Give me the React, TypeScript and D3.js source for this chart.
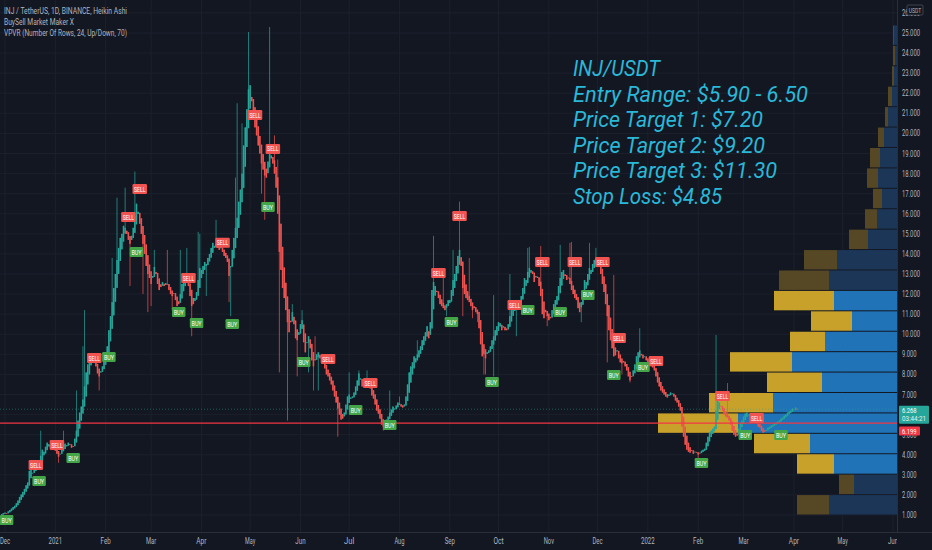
import React from "react";
import * as d3 from "d3";

// ---------------- DATA ----------------
// Heikin Ashi closes, one per day, starting 2020-11-29 (day index -2, day 0 = 2020-12-01)
const FIRST_DAY = -2;
const FIRST_OPEN = 1.0;
const CLOSES: number[] = [
  1.05, 1.1, 1.12, 1.08, 1.18, 1.25, 1.32, 1.4, 1.46, 1.58, 1.72, 1.9,
  2.02, 2.15, 2.3, 2.48, 2.62, 3.2, 3.35, 3.1, 3.28, 3.4,
  3.32, 3.6, 3.95, 4.25, 4.15, 4.4, 4.6, 4.52, 4.35, 4.45,
  4.4, 4.2, 4.05, 3.9, 4.05, 4.3, 4.4, 4.55, 4.48, 4.6,
  4.5, 4.35, 4.42, 4.8, 5.2, 5.7, 6.1, 6.4, 6.75, 7.4,
  8.1, 8.5, 8.9, 8.75, 8.8, 8.6, 8.4, 8.05, 7.9, 8.15,
  8.4, 8.7, 9.1, 9.4, 10.2, 10.9, 11.6, 12.3, 13.0, 13.7,
  14.3, 14.8, 15.0, 15.4, 15.3, 15.0, 14.7, 14.5, 14.9, 15.3,
  15.9, 16.5, 16.1, 15.5, 15.0, 14.5, 14.0, 13.4, 13.0, 12.8,
  12.5, 12.9, 13.35, 13.0, 12.5, 12.2, 12.35, 12.6, 12.4, 12.55,
  12.5, 12.2, 12.0, 11.9, 12.05, 11.7, 11.4, 11.5, 12.0, 12.5,
  12.65, 12.8, 12.7, 12.4, 11.9, 11.4, 11.5, 11.8, 12.1, 12.7,
  13.3, 13.2, 13.4, 13.6, 13.5, 13.8, 14.0, 14.3, 14.55, 14.4,
  14.5, 14.3, 14.2, 14.35, 14.1, 13.9, 13.8, 13.6, 12.9, 13.4,
  14.2, 14.8, 15.3, 15.8, 16.6, 17.2, 18.0, 19.4, 20.3, 21.2,
  22.2, 22.4, 21.6, 20.9, 20.3, 19.9, 19.4, 19.0, 18.5, 18.2,
  17.9, 17.8, 18.6, 19.2, 18.9, 18.5, 18.0, 17.3, 16.0, 14.1,
  13.2, 12.3, 11.8, 11.2, 10.6, 10.1, 10.6, 11.1, 10.5, 9.8,
  9.7, 10.1, 10.5, 10.7, 9.6, 9.1, 9.6, 9.9, 9.3, 8.7,
  8.4, 8.7, 9.0, 9.1, 8.8, 8.6, 8.55, 8.3, 8.0, 7.9,
  7.7, 7.5, 7.2, 6.9, 6.6, 6.3, 6.0, 5.75, 5.8, 6.1,
  6.5, 6.9, 7.0, 6.85, 6.9, 7.1, 7.4, 7.7, 8.05, 7.8,
  7.4, 7.5, 7.65, 7.75, 7.6, 7.3, 6.95, 6.8, 6.5, 6.2,
  6.05, 5.8, 5.5, 5.4, 5.5, 5.75, 5.9, 6.1, 6.25, 6.4,
  6.3, 6.45, 6.6, 6.55, 6.4, 6.35, 6.5, 6.9, 7.5, 8.1,
  8.4, 8.6, 8.9, 8.8, 9.0, 9.2, 9.4, 9.7, 9.9, 10.1,
  10.4, 9.8, 10.6, 12.2, 12.6, 12.4, 12.1, 11.8, 11.5, 11.4,
  11.3, 11.2, 11.5, 11.7, 11.7, 12.2, 12.7, 13.0, 13.4, 13.9,
  14.2, 13.4, 12.3, 12.0, 11.8, 11.7, 11.6, 11.4, 11.2, 11.3,
  11.1, 11.0, 10.3, 9.5, 8.9, 9.0, 8.8, 9.1, 9.2, 9.4,
  9.7, 9.9, 10.2, 10.4, 10.6, 10.55, 10.2, 10.4, 10.2, 10.2,
  10.5, 10.9, 11.2, 11.4, 11.3, 11.5, 11.7, 11.6, 11.9, 12.3,
  12.8, 12.7, 13.1, 13.3, 13.2, 13.0, 12.6, 12.9, 12.8, 12.4,
  11.9, 11.0, 10.8, 11.1, 10.9, 10.7, 10.8, 11.2, 11.5, 11.7,
  11.9, 12.4, 12.8, 13.1, 13.2, 12.9, 12.7, 12.8, 12.5, 12.2,
  12.0, 11.8, 11.7, 11.3, 11.1, 11.6, 12.2, 12.7, 12.6, 13.0,
  13.3, 13.2, 13.5, 13.7, 13.8, 13.6, 13.4, 13.0, 12.5, 12.1,
  11.5, 10.9, 10.2, 9.7, 9.3, 8.9, 8.95, 9.2, 8.8, 8.6,
  8.55, 8.6, 8.4, 8.2, 7.9, 7.7, 7.9, 8.2, 8.5, 8.9,
  9.1, 9.2, 8.95, 8.8, 8.9, 8.7, 8.6, 8.45, 8.4, 8.35,
  8.2, 7.9, 7.6, 7.4, 7.2, 7.1, 7.0, 6.9, 6.85, 7.0,
  7.1, 7.05, 6.9, 6.7, 6.6, 6.4, 6.2, 5.4, 4.9, 4.5,
  4.25, 4.15, 4.1, 4.2, 4.05, 4.15, 4.1, 4.0, 4.1, 4.2,
  4.25, 4.3, 4.6, 4.9, 5.1, 5.2, 5.3, 5.4, 6.2, 6.8,
  6.6, 6.4, 6.2, 6.0, 5.9, 5.85, 5.7, 5.5, 5.2, 5.0,
  4.9, 4.95, 5.3, 5.6, 5.7, 5.9, 6.05, 6.1, 6.0, 5.95,
  5.9, 5.85, 5.7, 5.55, 5.4, 5.35, 5.2, 5.1, 5.15, 5.25,
  5.35, 5.4, 5.45, 5.5, 5.55, 5.6, 5.65, 5.7, 5.8, 5.85,
  5.95, 6.0, 6.1, 6.15, 6.2, 6.3, 6.25, 6.35, 6.27,
];

// notable wicks: [day index, price]
const WICK_HIGHS: [number, number][] = [
  [22, 5.2], [36, 5.2], [44, 7.2], [48, 9.4], [49, 11.2], [66, 13.8], [69, 16.8], [74, 17.3],
  [80, 18.1], [92, 14.2], [100, 14.2], [108, 14.2], [112, 14.3], [119, 15.1], [120, 15.0],
  [130, 15.7], [142, 17.8], [143, 21.5], [146, 20.5], [150, 25.05], [163, 25.3], [166, 19.9],
  [168, 18.7], [177, 11.5], [183, 11.2], [191, 9.9], [212, 8.1], [218, 8.2], [223, 8.2],
  [237, 7.2], [243, 6.9], [254, 9.7], [258, 9.7], [264, 14.9], [270, 12.9], [276, 14.2],
  [280, 16.6], [286, 13.8], [301, 11.95], [311, 13.0], [322, 14.3], [323, 14.35], [330, 14.4],
  [342, 14.45], [348, 14.55], [349, 14.6], [360, 14.55], [364, 14.3], [375, 12.95], [391, 10.3],
  [438, 9.96], [445, 7.57],
];
const WICK_LOWS: [number, number][] = [
  [33, 3.6], [58, 7.2], [77, 12.4], [85, 12.0], [88, 11.1], [90, 11.4], [103, 11.2], [115, 9.9],
  [124, 11.9], [138, 11.6], [139, 10.9], [158, 17.0], [160, 15.7], [169, 8.1], [174, 5.7],
  [180, 7.9], [187, 8.1], [190, 7.2], [193, 7.2], [205, 4.9], [229, 6.6], [233, 5.2],
  [272, 10.9], [282, 10.9], [288, 10.8], [291, 10.6], [295, 8.0], [296, 8.0], [301, 7.9],
  [315, 9.9], [334, 10.4], [355, 10.6], [371, 8.6], [380, 8.0], [385, 7.6], [427, 3.8],
];

// BuySell signals: [day index, type, label price]
const SIGNALS: [number, "BUY" | "SELL", number][] = [
  [1, "BUY", 0.75], [19, "SELL", 3.49], [21, "BUY", 2.69], [32, "SELL", 4.49], [42, "BUY", 3.84],
  [55, "SELL", 8.82], [64, "BUY", 8.87], [76, "SELL", 15.84], [81, "BUY", 14.1], [83, "SELL", 17.23],
  [107, "BUY", 11.11], [113, "SELL", 12.8], [118, "BUY", 10.56], [134, "SELL", 14.55], [140, "BUY", 10.51],
  [154, "SELL", 20.92], [162, "BUY", 16.34], [165, "SELL", 19.23], [184, "BUY", 8.62], [199, "SELL", 8.77],
  [216, "BUY", 6.23], [225, "SELL", 7.57], [237, "BUY", 5.48], [267, "SELL", 13.05], [275, "BUY", 10.61],
  [280, "SELL", 15.89], [300, "BUY", 7.62], [314, "SELL", 11.46], [322, "BUY", 11.21], [331, "SELL", 13.6],
  [342, "BUY", 11.11], [351, "SELL", 13.6], [359, "BUY", 11.96], [368, "SELL", 13.6], [375, "BUY", 7.97],
  [378, "SELL", 9.81], [393, "BUY", 8.37], [401, "SELL", 8.67], [429, "BUY", 3.59], [442, "SELL", 6.93],
  [456, "BUY", 4.98], [463, "SELL", 5.83], [478, "BUY", 4.98],
];

// Volume profile, 24 rows from bottom to top
const VP_LOW = 1.0;
const VP_HIGH = 25.4;
const VP_UP = [68, 43, 63, 87, 159, 124, 75, 105, 72, 45, 63, 68, 60, 29, 20, 15, 19, 17, 13, 9, 5, 3, 2, 3];
const VP_DOWN = [32, 15, 37, 56, 80, 64, 55, 62, 35, 41, 60, 50, 33, 19, 12, 9, 11, 10, 6, 3, 4, 2, 2, 1];
const VA_FIRST = 2;
const VA_LAST = 10;

// 6.000 is hidden behind the last-price label in the reference
const PRICE_TICKS = [1, 2, 3, 4, 5, 7, 8, 9, 10, 11, 12, 13, 14, 15, 16, 17, 18, 19, 20, 21, 22, 23, 24, 25, 26];
const GRID_PRICES = [1, 2, 3, 4, 5, 6, 7, 8, 9, 10, 11, 12, 13, 14, 15, 16, 17, 18, 19, 20, 21, 22, 23, 24, 25, 26];
const MONTH_TICKS: [string, string][] = [
  ["2020-12-01", "Dec"], ["2021-01-01", "2021"], ["2021-02-01", "Feb"], ["2021-03-01", "Mar"],
  ["2021-04-01", "Apr"], ["2021-05-01", "May"], ["2021-06-01", "Jun"], ["2021-07-01", "Jul"],
  ["2021-08-01", "Aug"], ["2021-09-01", "Sep"], ["2021-10-01", "Oct"], ["2021-11-01", "Nov"],
  ["2021-12-01", "Dec"], ["2022-01-01", "2022"], ["2022-02-01", "Feb"], ["2022-03-01", "Mar"],
  ["2022-04-01", "Apr"], ["2022-05-01", "May"], ["2022-06-01", "Jun"],
];

const LAST_PRICE = 6.268;
const LAST_PRICE_TEXT = "6.268";
const COUNTDOWN = "03:44:21";
const RED_LABEL = "6.199";

const HEADER = ["INJ / TetherUS, 1D, BINANCE, Heikin Ashi", "BuySell Market Maker X", "VPVR (Number Of Rows, 24, Up/Down, 70)"];
const NOTE_LINES = ["INJ/USDT", "Entry Range: $5.90 - 6.50", "Price Target 1: $7.20", "Price Target 2: $9.20", "Price Target 3: $11.30", "Stop Loss: $4.85"];

// ---------------- LAYOUT ----------------
const W = 932;
const H = 550;
const PLOT_R = 897;
const PLOT_B = 532;
const BG = "#131722";
const GRID = "#1c202c";
const AXIS_TXT = "#b2b5be";
const UP = "#26a69a";
const DOWN = "#ef5350";
const HEADER_W = [123, 70, 123];
const NOTE_W = [87, 235, 190, 192, 204, 149];
const FONT = "Roboto, 'Noto Sans', sans-serif";

const DAY0 = Date.UTC(2020, 11, 1);
const DAY_MS = 86400000;

const x = d3.scaleUtc().domain([new Date("2020-12-01"), new Date("2022-06-01")]).range([5, 893]);
const y = d3.scaleLinear().domain([1, 25]).range([515, 33]);

type Candle = { d: number; o: number; c: number; h: number; l: number };

function buildCandles(): Candle[] {
  const hiMap = new Map(WICK_HIGHS);
  const loMap = new Map(WICK_LOWS);
  const out: Candle[] = [];
  let po = FIRST_OPEN;
  let pc = FIRST_OPEN;
  CLOSES.forEach((c, i) => {
    const d = FIRST_DAY + i;
    const o = i === 0 ? FIRST_OPEN : (po + pc) / 2;
    const h = Math.max(o, c, hiMap.get(d) ?? -Infinity);
    const l = Math.min(o, c, loMap.get(d) ?? Infinity);
    out.push({ d, o, c, h, l });
    po = o;
    pc = c;
  });
  return out;
}

const dayX = (d: number) => x(new Date(DAY0 + d * DAY_MS));

export default function App() {
  const candles = buildCandles();
  const rowH = (VP_HIGH - VP_LOW) / VP_UP.length;
  const totals = VP_UP.map((u, i) => u + VP_DOWN[i]);
  const wScale = d3.scaleLinear().domain([0, d3.max(totals) as number]).range([0, 239]);
  const pocIdx = totals.indexOf(d3.max(totals) as number);
  const pocY = y(VP_LOW + (pocIdx + 0.5) * rowH);
  const lastY = y(LAST_PRICE);
  const bodyW = 1.55;

  return (
    <svg width={W} height={H} style={{ position: "fixed", left: 0, top: 0, background: BG }}>
      <defs>
        <clipPath id="plot">
          <rect x={0} y={0} width={PLOT_R} height={PLOT_B} />
        </clipPath>
        <clipPath id="xaxis">
          <rect x={0} y={PLOT_B} width={PLOT_R} height={H - PLOT_B} />
        </clipPath>
      </defs>
      <rect x={0} y={0} width={W} height={H} fill={BG} />

      {/* grid */}
      <g clipPath="url(#plot)">
        {GRID_PRICES.map((p) => (
          <line key={"h" + p} x1={0} x2={PLOT_R} y1={y(p)} y2={y(p)} stroke={GRID} strokeWidth={1} />
        ))}
        {MONTH_TICKS.map(([ds]) => (
          <line key={"v" + ds} x1={x(new Date(ds))} x2={x(new Date(ds))} y1={0} y2={PLOT_B} stroke={GRID} strokeWidth={1} />
        ))}
      </g>

      {/* header */}
      {HEADER.map((t, i) => (
        <text key={t} x={4} y={13.5 + i * 11.2} fontSize={8.3} fill={AXIS_TXT} fontFamily={FONT} textLength={HEADER_W[i]} lengthAdjust="spacingAndGlyphs">
          {t}
        </text>
      ))}

      {/* volume profile */}
      <g clipPath="url(#plot)">
        {VP_UP.map((u, k) => {
          const yTop = y(VP_LOW + (k + 1) * rowH);
          const yBot = y(VP_LOW + k * rowH);
          const inVA = k >= VA_FIRST && k <= VA_LAST;
          const bw = wScale(u);
          const gw = wScale(VP_DOWN[k]);
          return (
            <g key={"vp" + k}>
              <rect x={PLOT_R - bw} y={yTop + 0.5} width={bw} height={yBot - yTop - 1} fill={inVA ? "#1f73b6" : "#1c3658"} />
              <rect x={PLOT_R - bw - gw} y={yTop + 0.5} width={gw} height={yBot - yTop - 1} fill={inVA ? "#c8a12b" : "#564824"} />
            </g>
          );
        })}
      </g>

      {/* candles */}
      <g clipPath="url(#plot)">
        {candles.map((c) => {
          const cx = dayX(c.d);
          const col = c.c >= c.o ? UP : DOWN;
          const top = y(Math.max(c.o, c.c));
          const bot = y(Math.min(c.o, c.c));
          return (
            <g key={"c" + c.d}>
              <line x1={cx} x2={cx} y1={y(c.h)} y2={y(c.l)} stroke={col} strokeWidth={0.8} opacity={0.9} />
              <rect x={cx - bodyW / 2} y={top} width={bodyW} height={Math.max(0.8, bot - top)} fill={col} />
            </g>
          );
        })}
      </g>

      {/* POC line and last price line */}
      <line x1={0} x2={PLOT_R} y1={pocY} y2={pocY} stroke="#f23645" strokeWidth={1.3} />
      <line x1={0} x2={PLOT_R} y1={lastY} y2={lastY} stroke={UP} strokeWidth={0.8} strokeDasharray="1 2" opacity={0.6} />

      {/* signals */}
      <g clipPath="url(#plot)">
        {SIGNALS.map(([d, type, p], i) => {
          const cx = dayX(d);
          const cy = y(p);
          const isSell = type === "SELL";
          const w = isSell ? 14.5 : 13.5;
          return (
            <g key={"s" + i}>
              <rect x={cx - w / 2} y={cy - 5} width={w} height={10} rx={1.2} fill={isSell ? "#f05350" : "#43a547"} />
              <text x={cx} y={cy + 2.6} fontSize={7.2} fill="#ffffff" fontFamily={FONT} textAnchor="middle" textLength={isSell ? 11.5 : 10} lengthAdjust="spacingAndGlyphs">
                {type}
              </text>
            </g>
          );
        })}
      </g>

      {/* annotation */}
      {NOTE_LINES.map((t, i) => (
        <text key={t} x={573} y={76 + i * 25.5} fontSize={22.5} fontStyle="italic" fill="#2ab8d8" fontFamily={FONT} textLength={NOTE_W[i]} lengthAdjust="spacingAndGlyphs">
          {t}
        </text>
      ))}

      {/* axes panels */}
      <line x1={PLOT_R + 0.5} x2={PLOT_R + 0.5} y1={0} y2={PLOT_B} stroke="#2a2e39" />
      <line x1={0} x2={W} y1={PLOT_B + 0.5} y2={PLOT_B + 0.5} stroke="#2a2e39" />

      {/* price axis labels */}
      {PRICE_TICKS.map((p) => (
        <text key={"pt" + p} x={902} y={y(p) + 3} fontSize={8.2} fill={AXIS_TXT} fontFamily={FONT} textLength={p >= 10 ? 18 : 14.5} lengthAdjust="spacingAndGlyphs">
          {p.toFixed(3)}
        </text>
      ))}
      {/* USDT box */}
      <rect x={907} y={5} width={16} height={10} fill={BG} stroke="#50535e" strokeWidth={0.7} rx={1} />
      <text x={915} y={12.6} fontSize={6.5} fill={AXIS_TXT} fontFamily={FONT} textAnchor="middle" textLength={12.5} lengthAdjust="spacingAndGlyphs">
        USDT
      </text>

      {/* last price label */}
      <rect x={899} y={lastY - 3.5} width={30} height={18} fill="#26a69a" rx={1} />
      <text x={902} y={lastY + 3.5} fontSize={8} fill="#ffffff" fontFamily={FONT} textLength={14.5} lengthAdjust="spacingAndGlyphs">
        {LAST_PRICE_TEXT}
      </text>
      <text x={902} y={lastY + 12} fontSize={8} fill="#e0f2f1" fontFamily={FONT} textLength={24} lengthAdjust="spacingAndGlyphs">
        {COUNTDOWN}
      </text>
      <rect x={899} y={pocY + 3.5} width={21} height={9} fill="#f23645" rx={1} />
      <text x={902} y={pocY + 10.8} fontSize={8} fill="#ffffff" fontFamily={FONT} textLength={14.5} lengthAdjust="spacingAndGlyphs">
        {RED_LABEL}
      </text>

      {/* time axis labels */}
      <g clipPath="url(#xaxis)">
        {MONTH_TICKS.map(([ds, lab]) => (
          <text key={"mt" + ds} x={x(new Date(ds))} y={544} fontSize={8.2} fill={AXIS_TXT} fontFamily={FONT} textAnchor="middle" textLength={lab.length * 3.4} lengthAdjust="spacingAndGlyphs">
            {lab}
          </text>
        ))}
      </g>
    </svg>
  );
}
